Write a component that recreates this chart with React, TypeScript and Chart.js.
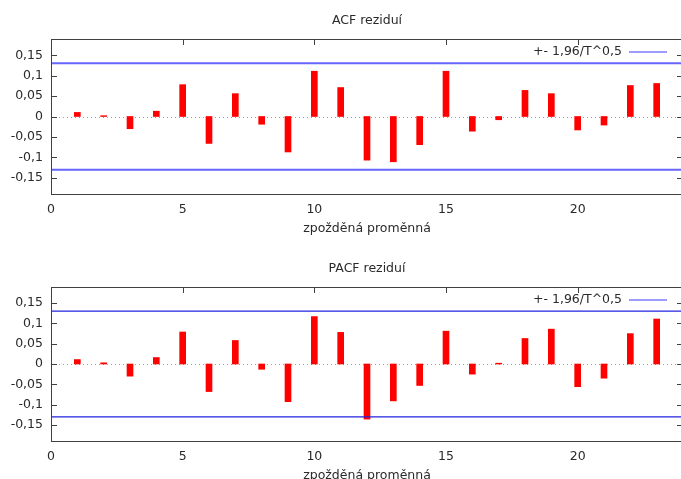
import React, { useEffect, useRef } from "react";
import { Chart, registerables } from "chart.js";

Chart.register(...registerables);

// ---- data ----
const lags = [1, 2, 3, 4, 5, 6, 7, 8, 9, 10, 11, 12, 13, 14, 15, 16, 17, 18, 19, 20, 21, 22, 23];
const acfValues = [
  0.010, 0.002, -0.030, 0.013, 0.078, -0.066, 0.056, -0.019, -0.087, 0.111, 0.071, -0.107,
  -0.111, -0.069, 0.111, -0.036, -0.008, 0.064, 0.056, -0.033, -0.021, 0.076, 0.081,
];
const pacfValues = [
  0.011, 0.003, -0.030, 0.016, 0.079, -0.068, 0.058, -0.013, -0.093, 0.117, 0.078, -0.136,
  -0.091, -0.053, 0.081, -0.025, 0.002, 0.063, 0.086, -0.056, -0.035, 0.075, 0.111,
];
const confidenceBound = 0.1307;
const boundLagRange = [0, 24];
const xTickValues = [0, 5, 10, 15, 20];
const yTickValues = [-0.15, -0.1, -0.05, 0, 0.05, 0.1, 0.15];
const yRange = [-0.19, 0.19];
const chartTitles = ["ACF reziduí", "PACF reziduí"];
const xAxisTitle = "zpožděná proměnná";
const legendLabel = "+- 1,96/T^0,5";

const FONT = "'DejaVu Sans', Verdana, sans-serif";
const FONT_SIZE = 12.5;
const TEXT_COLOR = "#2a2a2a";

const fmt = (v: number) => {
  const r = Math.round(v * 100) / 100;
  if (r === 0) return "0";
  return String(r).replace(".", ",");
};

const gnuplotPlugin = {
  id: "gnuplotFrame",
  beforeDatasetsDraw(chart: any) {
    const { ctx, chartArea, scales } = chart;
    const y0 = Math.round(scales.y.getPixelForValue(0)) + 0.5;
    ctx.save();
    ctx.strokeStyle = "#a0a0a0";
    ctx.lineWidth = 1;
    ctx.setLineDash([1, 3]);
    ctx.beginPath();
    ctx.moveTo(chartArea.left, y0);
    ctx.lineTo(chartArea.right, y0);
    ctx.stroke();
    ctx.restore();
  },
  afterDraw(chart: any, _args: any, opts: any) {
    const { ctx, chartArea, scales } = chart;
    const { left, right, top, bottom } = chartArea;
    ctx.save();
    // frame
    ctx.strokeStyle = "#404040";
    ctx.lineWidth = 1;
    ctx.setLineDash([]);
    ctx.strokeRect(left + 0.5, top + 0.5, right - left, bottom - top);
    // y ticks (inward, mirrored)
    ctx.beginPath();
    yTickValues.forEach((v) => {
      const py = Math.round(scales.y.getPixelForValue(v)) + 0.5;
      ctx.moveTo(left, py);
      ctx.lineTo(left + 6, py);
      ctx.moveTo(right - 6, py);
      ctx.lineTo(right, py);
    });
    // x ticks on top border
    xTickValues.forEach((v) => {
      if (v === 0) return;
      const px = Math.round(scales.x.getPixelForValue(v)) + 0.5;
      ctx.moveTo(px, top);
      ctx.lineTo(px, top + 6);
    });
    ctx.stroke();

    // titles
    ctx.fillStyle = TEXT_COLOR;
    ctx.font = `${FONT_SIZE}px ${FONT}`;
    ctx.textAlign = "center";
    ctx.textBaseline = "alphabetic";
    const cx = (left + right) / 2;
    ctx.fillText(opts.title, cx, top - 15);
    ctx.fillText(xAxisTitle, cx, bottom + 37.5);

    // legend
    ctx.textAlign = "right";
    ctx.fillText(legendLabel, right - 61, top + 15.7);
    ctx.strokeStyle = "#3a3aff";
    ctx.lineWidth = 1.2;
    ctx.beginPath();
    ctx.moveTo(right - 54, top + 13);
    ctx.lineTo(right - 16, top + 13);
    ctx.stroke();
    ctx.restore();
  },
};

type PanelProps = {
  values: number[];
  title: string;
  height: number;
  padTop: number;
  xHeight: number;
  boundColor: string;
  boundWidth: number;
};

function Panel({ values, title, height, padTop, xHeight, boundColor, boundWidth }: PanelProps) {
  const ref = useRef<HTMLCanvasElement | null>(null);
  useEffect(() => {
    if (!ref.current) return;
    const barData = lags.map((l, i) => ({ x: l, y: values[i] }));
    const upper = boundLagRange.map((x) => ({ x, y: confidenceBound }));
    const lower = boundLagRange.map((x) => ({ x, y: -confidenceBound }));
    const chart = new Chart(ref.current, {
      type: "bar",
      data: {
        datasets: [
          {
            type: "line",
            data: upper,
            borderColor: boundColor,
            borderWidth: boundWidth,
            pointRadius: 0,
            fill: false,
          } as any,
          {
            type: "line",
            data: lower,
            borderColor: boundColor,
            borderWidth: boundWidth,
            pointRadius: 0,
            fill: false,
          } as any,
          {
            type: "bar",
            data: barData,
            backgroundColor: "#ff0000",
            borderWidth: 0,
            barThickness: 6,
            grouped: false,
          } as any,
        ],
      },
      options: {
        responsive: false,
        animation: false,
        devicePixelRatio: 1,
        layout: { padding: { top: padTop, right: 17, left: 0, bottom: 0 } },
        plugins: {
          legend: { display: false },
          tooltip: { enabled: false },
          title: { display: false },
          gnuplotFrame: { title },
        } as any,
        scales: {
          x: {
            type: "linear",
            min: boundLagRange[0],
            max: boundLagRange[1],
            offset: false,
            grid: { display: false, drawTicks: false },
            border: { display: false },
            afterFit: (s: any) => {
              s.height = xHeight;
            },
            afterBuildTicks: (s: any) => {
              s.ticks = xTickValues.map((v) => ({ value: v }));
            },
            ticks: {
              padding: 8,
              color: TEXT_COLOR,
              font: { family: FONT, size: FONT_SIZE },
              maxRotation: 0,
              callback: (v: any) => String(v),
            },
          },
          y: {
            type: "linear",
            min: yRange[0],
            max: yRange[1],
            grid: { display: false, drawTicks: false },
            border: { display: false },
            afterFit: (s: any) => {
              s.width = 51;
            },
            afterBuildTicks: (s: any) => {
              s.ticks = yTickValues.map((v) => ({ value: v }));
            },
            ticks: {
              padding: 8,
              color: TEXT_COLOR,
              font: { family: FONT, size: FONT_SIZE },
              callback: (v: any) => fmt(Number(v)),
            },
          },
        },
      },
      plugins: [gnuplotPlugin as any],
    });
    return () => chart.destroy();
  }, []);
  return (
    <canvas
      ref={ref}
      width={700}
      height={height}
      style={{ display: "block", width: 700, height }}
    />
  );
}

export default function App() {
  return (
    <div
      style={{
        position: "absolute",
        left: 0,
        top: 0,
        width: 681,
        height: 479,
        overflow: "hidden",
        background: "#ffffff",
      }}
    >
      <Panel
        values={acfValues}
        title={chartTitles[0]}
        height={240}
        padTop={39}
        xHeight={46}
        boundColor="#6666ff"
        boundWidth={2}
      />
      <Panel
        values={pacfValues}
        title={chartTitles[1]}
        height={239}
        padTop={47}
        xHeight={38}
        boundColor="#2222dd"
        boundWidth={1.3}
      />
    </div>
  );
}
